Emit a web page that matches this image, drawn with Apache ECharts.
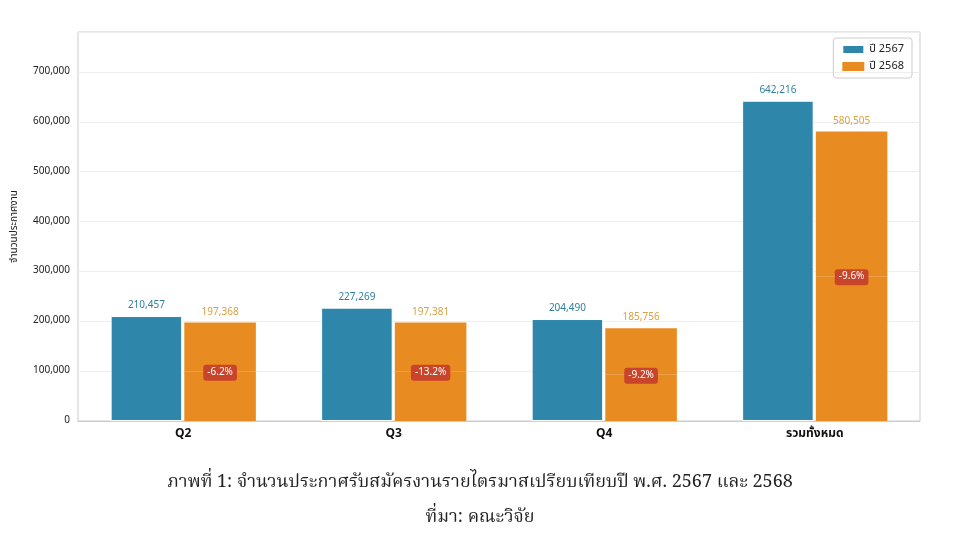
<!DOCTYPE html>
<html><head><meta charset="utf-8">
<script src="https://cdn.jsdelivr.net/npm/echarts@6/dist/echarts.min.js"></script>
<style>body{margin:0;background:#fff}#myChart{width:960px;height:548px}</style>
</head><body><div id="myChart"></div>
<script>
var categories = ['Q2', 'Q3', 'Q4', 'รวมทั้งหมด'];
var y2567 = [210457, 227269, 204490, 642216];
var y2568 = [197368, 197381, 185756, 580505];
var changes = ['-6.2%', '-13.2%', '-9.2%', '-9.6%'];

var thaiFont = "'Noto Sans Thai', 'Noto Sans', 'DejaVu Sans', sans-serif";
var myChart = echarts.init(document.getElementById('myChart'));
var fmt = function (v) { return v.toLocaleString('en-US'); };

var option = {
	animation: false,
	textStyle: { fontFamily: thaiFont },
	title: [
		{ text: 'ภาพที่ 1: จำนวนประกาศรับสมัครงานรายไตรมาสเปรียบเทียบปี พ.ศ. 2567 และ 2568', left: 'center', top: 470,
			textStyle: { fontSize: 18, fontWeight: 'normal', color: '#222', fontFamily: "'Noto Serif Thai', 'DejaVu Serif', serif" } },
		{ text: 'ที่มา: คณะวิจัย', left: 'center', top: 505,
			textStyle: { fontSize: 18, fontWeight: 'normal', color: '#222', fontFamily: "'Noto Serif Thai', 'DejaVu Serif', serif" } }
	],
	legend: {
		data: ['ปี 2567', 'ปี 2568'], orient: 'vertical', right: 48, top: 38,
		itemWidth: 22, itemHeight: 9, itemGap: 6, icon: 'rect',
		borderColor: '#ccc', borderWidth: 1, borderRadius: 3, padding: [6, 8],
		textStyle: { fontSize: 11, color: '#222' }
	},
	grid: { left: 78, right: 40, top: 32, bottom: 127, show: true, borderColor: '#ccc', borderWidth: 1 },
	xAxis: {
		type: 'category', data: categories,
		axisTick: { show: false }, axisLine: { lineStyle: { color: '#ccc' } },
		axisLabel: { fontWeight: 'bold', fontSize: 12, color: '#111', margin: 8 }
	},
	yAxis: {
		type: 'value', min: 0, max: 780000, interval: 100000,
		name: 'จำนวนประกาศงาน', nameLocation: 'middle', nameGap: 58, nameRotate: 90,
		nameTextStyle: { fontSize: 10, color: '#222' },
		axisLabel: { showMaxLabel: false, fontSize: 10, color: '#222', formatter: fmt },
		splitLine: { lineStyle: { color: '#eee' } }
	},
	series: [
		{
			name: 'ปี 2567', type: 'bar', stack: 'a', data: y2567,
			barCategoryGap: '31%', barGap: '3%',
			itemStyle: { color: '#2e86ab', borderColor: '#fff', borderWidth: 1 },
			label: { show: true, position: 'top', color: '#2e7f9e', fontSize: 10, formatter: function (p) { return fmt(p.value); } }
		},
		{
			name: 'ปี 2568', type: 'bar', stack: 'b',
			data: y2568.map(function (v) { return v / 2; }),
			itemStyle: { color: '#e88b21' },
			label: { show: true, position: 'top', distance: -9, color: '#fff', fontSize: 10,
				backgroundColor: '#c8442a', borderRadius: 3, padding: [3, 4],
				formatter: function (p) { return changes[p.dataIndex]; } }
		},
		{
			name: 'ปี 2568', type: 'bar', stack: 'b',
			data: y2568.map(function (v) { return v / 2; }),
			itemStyle: { color: '#e88b21' },
			label: { show: true, position: 'top', color: '#d9a040', fontSize: 10,
				formatter: function (p) { return fmt(y2568[p.dataIndex]); } }
		}
	]
};
myChart.setOption(option);
</script></body></html>
